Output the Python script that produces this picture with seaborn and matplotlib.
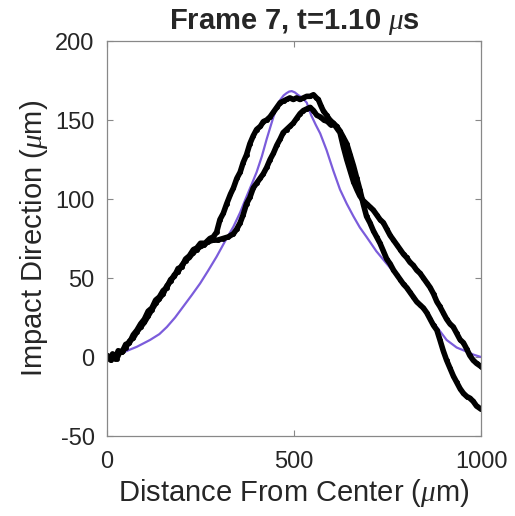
import numpy as np
import pandas as pd
import matplotlib
matplotlib.use("Agg")
import matplotlib.pyplot as plt
import seaborn as sns

# fitted profile (purple)
fit_x = [0, 25, 48, 80, 115, 140, 160, 182, 204, 226, 249, 270, 293, 315, 338, 356,
         373, 388, 400, 414, 427, 436, 445, 454, 463, 472, 480, 487, 494, 502, 510, 522,
         534, 546, 558, 570, 587, 605, 623, 641, 659, 676, 694, 720, 748, 775, 801, 828,
         855, 882, 908, 935, 962, 980, 1000]
fit_y = [0, 1, 3.4, 6.5, 10.8, 14.5, 19, 25, 32, 39, 46.6, 54.5, 63.5, 73, 82.5, 91.5,
         101.5, 110, 117, 127, 138, 145, 152, 158, 162.7, 165.5, 167, 168, 168.3, 167.5, 166, 164,
         161, 153, 147, 141.5, 131, 118, 106, 97, 89, 82, 76, 67, 59, 51.5, 44.5, 36,
         27.6, 19, 10.8, 6, 3.4, 1.5, 0]

# measured profile 1 (black)
prof1_x = [0, 8, 15, 22, 30, 40, 50, 60, 70, 80, 90, 100, 110, 120, 130, 140, 150, 160,
           170, 180, 190, 200, 210, 220, 231, 240, 250, 262, 275, 284, 293, 302, 311, 320,
           330, 338, 347, 356, 364, 373, 382, 391, 400, 410, 418, 427, 436, 445, 454, 463,
           472, 480, 489, 498, 507, 516, 525, 534, 543, 552, 560, 565, 572, 578, 587, 596,
           605, 614, 623, 632, 641, 650, 659, 668, 676, 685, 694, 703, 712, 721, 730, 739,
           748, 757, 766, 775, 784, 793, 801, 810, 819, 828, 837, 846, 855, 864, 873, 882,
           890, 899, 908, 917, 926, 935, 944, 953, 962, 970, 979, 988, 1000]
prof1_y = [1, -1, 2, -1, 4, 3, 8, 9, 14, 17, 21, 24, 29, 31, 36, 38, 42, 44,
           49, 51, 56, 57, 62, 64, 68, 69, 72, 72, 75, 76, 79, 87, 91, 97,
           103, 107, 113, 117, 123, 128, 135, 140, 144, 146, 149, 150, 152, 155, 158, 161,
           162, 163, 164, 163, 164, 163, 164, 165, 165, 166, 164, 163, 159, 156, 153, 150,
           148, 146, 143, 139, 135, 128, 121, 113, 106, 97, 89, 85, 80, 76, 72, 67,
           62, 59, 55, 52, 49, 46, 44, 41, 38, 35, 33, 31, 28, 24, 20, 17,
           11, 4, -2, -7, -12, -16, -20, -23, -25, -26, -28, -31, -33]

# measured profile 2 (black)
prof2_x = [0, 10, 18, 26, 34, 42, 50, 60, 70, 80, 90, 100, 110, 120, 130, 140, 150, 160,
           170, 180, 190, 200, 210, 220, 230, 240, 250, 260, 270, 284, 296, 310, 324, 338,
           347, 356, 364, 373, 382, 391, 400, 409, 418, 427, 436, 445, 454, 463, 471, 480,
           489, 498, 507, 516, 525, 534, 543, 552, 561, 570, 580, 590, 598, 605, 614, 623,
           632, 641, 650, 659, 668, 676, 685, 694, 703, 712, 721, 730, 739, 748, 757, 766,
           775, 784, 793, 801, 810, 819, 828, 837, 846, 855, 864, 873, 882, 890, 899, 908,
           917, 926, 935, 944, 953, 962, 970, 979, 988, 1000]
prof2_y = [0, -2, 1, -1, 3, 4, 6, 10, 12, 16, 19, 22, 26, 30, 34, 37, 40, 45,
           48, 52, 54, 58, 61, 63, 66, 68, 70, 71, 73, 74, 74, 75, 76, 78,
           81, 85, 90, 97, 101, 107, 110, 113, 116, 120, 125, 129, 134, 138, 142, 144,
           146, 148, 151, 154, 156, 157, 158, 156, 153, 152, 150, 149, 147, 148, 145, 142,
           133, 125, 118, 111, 106, 102, 99, 97, 95, 93, 90, 87, 85, 81, 77, 74,
           71, 68, 65, 63, 60, 58, 55, 53, 50, 47, 44, 40, 35, 32, 28, 24,
           21, 19, 15, 11, 9, 5, 1, -2, -4, -6]

fit = pd.DataFrame({"x": fit_x, "y": fit_y})
p1 = pd.DataFrame({"x": prof1_x, "y": prof1_y})
p2 = pd.DataFrame({"x": prof2_x, "y": prof2_y})

sns.set_style("white")
plt.rcParams["font.family"] = ["Liberation Sans", "DejaVu Sans"]
plt.rcParams["mathtext.fontset"] = "custom"
plt.rcParams["mathtext.it"] = "Liberation Serif:italic"
plt.rcParams["axes.unicode_minus"] = False

fig = plt.figure(figsize=(5.15, 5.16), dpi=100)
ax = fig.add_axes([0.2078, 0.155, 0.7262, 0.7655])

sns.lineplot(data=fit, x="x", y="y", sort=False, color="#7B5CDB", lw=1.6, ax=ax)
sns.lineplot(data=p1, x="x", y="y", sort=False, color="black", lw=4,
             marker="o", markersize=3.5, markeredgewidth=0, ax=ax)
sns.lineplot(data=p2, x="x", y="y", sort=False, color="black", lw=4,
             marker="o", markersize=3.5, markeredgewidth=0, ax=ax)

ax.set_xlim(0, 1000)
ax.set_ylim(-50, 200)
ax.set_xticks([0, 500, 1000])
ax.set_yticks([-50, 0, 50, 100, 150, 200])
ax.tick_params(direction="in", length=4, width=0.8, colors="#888888",
               labelcolor="#262626", labelsize=17, top=True, right=True,
               bottom=True, left=True)
ax.tick_params(axis="x", pad=11)
ax.tick_params(axis="y", pad=9)
for s in ax.spines.values():
    s.set_color("#888888")
    s.set_linewidth(0.9)

ax.set_title(r"Frame 7, t=1.10 $\mu$s", fontsize=21, fontweight="bold", pad=9)
ax.set_xlabel(r"Distance From Center ($\mu$m)", fontsize=21, color="#262626", labelpad=3)
ax.set_ylabel(r"Impact Direction ($\mu$m)", fontsize=21, color="#262626", labelpad=4)

fig.savefig("out.png", dpi=100)
